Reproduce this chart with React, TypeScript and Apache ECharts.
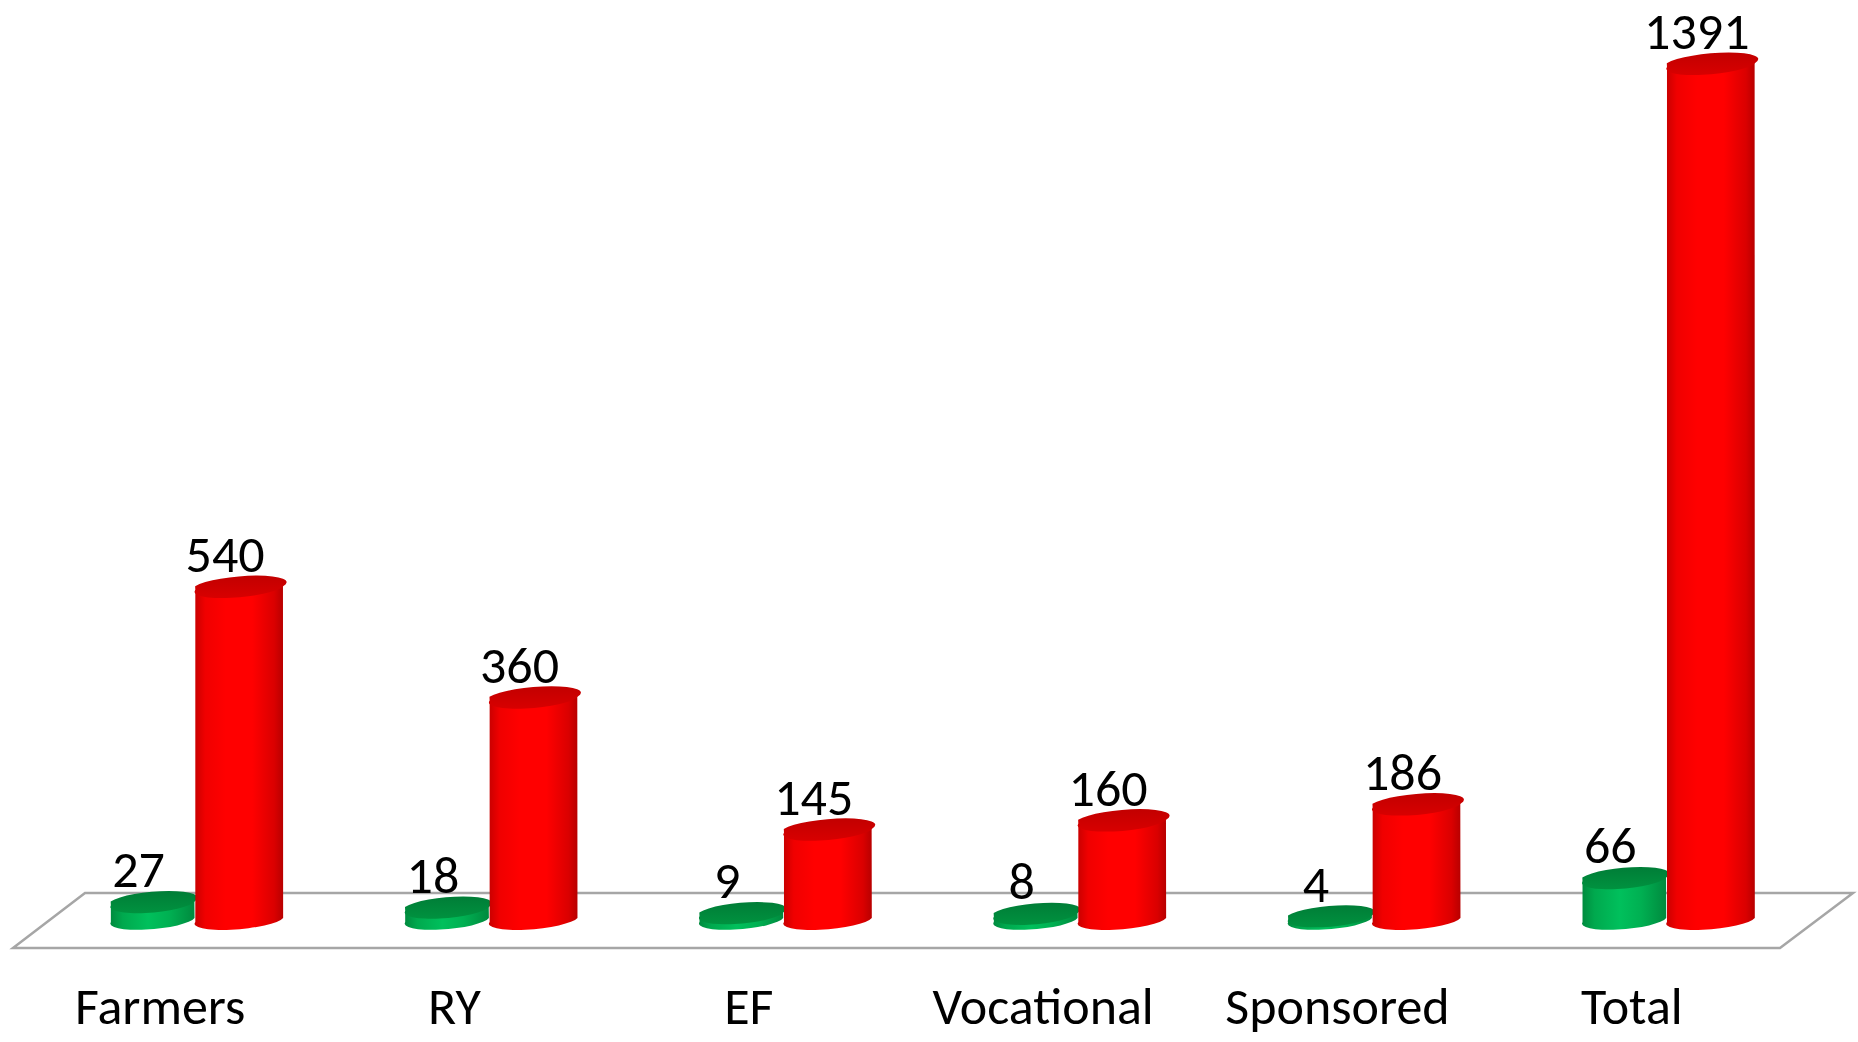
import React, { useEffect, useRef } from "react";
import * as echarts from "echarts";

const categories = ["Farmers", "RY", "EF", "Vocational", "Sponsored", "Total"];
const greenValues = [27, 18, 9, 8, 4, 66];
const redValues = [540, 360, 145, 160, 186, 1391];

const FONT = "Carlito, Lato, 'Open Sans', sans-serif";
const FS = 52;

function cylinderRenderer(offsetFrac: number, widthFrac: number, pal: any) {
  return (params: any, api: any) => {
    const idx = api.value(0);
    const v = api.value(1);
    const base = api.coord([idx, 0]);
    const top = api.coord([idx, v]);
    const bw = api.size([1, 0])[0];
    const cx = base[0] + offsetFrac * bw;
    const rx = (widthFrac * bw) / 2;
    const ry = 9;
    const tilt = 4;
    const a = Math.atan2(tilt, rx);
    const deg = (-a * 180) / Math.PI;
    const c = Math.cos(a);
    const s = Math.sin(a);
    const lx = cx - rx * c;
    const rxp = cx + rx * c;
    const yb = base[1];
    const yt = top[1];
    const body =
      `M ${lx} ${yt + rx * s} L ${lx} ${yb + rx * s} ` +
      `A ${rx} ${ry} ${deg} 0 0 ${rxp} ${yb - rx * s} ` +
      `L ${rxp} ${yt - rx * s} Z`;
    const cap =
      `M ${lx} ${yt + rx * s} A ${rx} ${ry} ${deg} 0 0 ${rxp} ${yt - rx * s} ` +
      `A ${rx} ${ry} ${deg} 0 0 ${lx} ${yt + rx * s} Z`;
    return {
      type: "group",
      children: [
        {
          type: "path",
          shape: { pathData: body },
          style: {
            fill: new echarts.graphic.LinearGradient(0, 0, 1, 0, pal.body),
          },
        },
        {
          type: "path",
          shape: { pathData: cap },
          style: {
            fill: new echarts.graphic.LinearGradient(0, 0, 0, 1, pal.cap),
          },
        },
        {
          type: "text",
          style: {
            text: String(v),
            x: cx - 14,
            y: yt - 32,
            align: "center",
            verticalAlign: "middle",
            fontSize: FS,
            lineHeight: 46,
            fontFamily: FONT,
            fill: "#000",
          },
        },
      ],
    };
  };
}

const redPal = {
  body: [
    { offset: 0, color: "#C80000" },
    { offset: 0.12, color: "#F00000" },
    { offset: 0.35, color: "#FF0000" },
    { offset: 0.65, color: "#FF0000" },
    { offset: 0.9, color: "#DA0000" },
    { offset: 1, color: "#B80000" },
  ],
  cap: [
    { offset: 0, color: "#C20000" },
    { offset: 1, color: "#D80000" },
  ],
};

const greenPal = {
  body: [
    { offset: 0, color: "#008A3E" },
    { offset: 0.15, color: "#00A94E" },
    { offset: 0.45, color: "#00C05C" },
    { offset: 0.7, color: "#00B052" },
    { offset: 1, color: "#008A3E" },
  ],
  cap: [
    { offset: 0, color: "#007D37" },
    { offset: 1, color: "#00923F" },
  ],
};

export default function App() {
  const ref = useRef<HTMLDivElement>(null);
  useEffect(() => {
    if (!ref.current) return;
    const chart = echarts.init(ref.current, null, { renderer: "svg" });
    const greenData = greenValues.map((v, i) => [i, v]);
    const redData = redValues.map((v, i) => [i, v]);
    chart.setOption({
      animation: false,
      backgroundColor: "#fff",
      grid: { left: 49, right: 43, top: 57.6, bottom: 124 },
      xAxis: {
        type: "category",
        data: categories,
        axisLine: { show: false },
        axisTick: { show: false },
        splitLine: { show: false },
        axisLabel: {
          fontSize: FS,
          lineHeight: 46,
          fontFamily: FONT,
          color: "#000",
          margin: 88,
          verticalAlign: "middle",
          align: "center",
          padding: [0, 72, 0, 0],
          interval: 0,
        },
      },
      yAxis: { type: "value", min: 0, max: 1400, show: false },
      series: [
        {
          type: "custom",
          data: [[0, 0]],
          z: 1,
          silent: true,
          renderItem: (params: any, api: any) => {
            const cs = params.coordSys;
            const base = cs.y + cs.height;
            const l = cs.x;
            const r = cs.x + cs.width;
            return {
              type: "polygon",
              shape: {
                points: [
                  [l + 36, base - 25],
                  [r + 38, base - 25],
                  [r - 35, base + 30],
                  [l - 36, base + 30],
                ],
              },
              style: { fill: "none", stroke: "#A6A6A6", lineWidth: 2.5 },
            };
          },
        },
        {
          type: "custom",
          name: "green",
          data: greenData,
          z: 2,
          renderItem: cylinderRenderer(-0.148, 0.285, greenPal),
        },
        {
          type: "custom",
          name: "red",
          data: redData,
          z: 3,
          renderItem: cylinderRenderer(0.146, 0.299, redPal),
        },
      ],
    });
    return () => chart.dispose();
  }, []);
  return (
    <div
      ref={ref}
      style={{ position: "fixed", left: 0, top: 0, width: "1858px", height: "1042px" }}
    />
  );
}
